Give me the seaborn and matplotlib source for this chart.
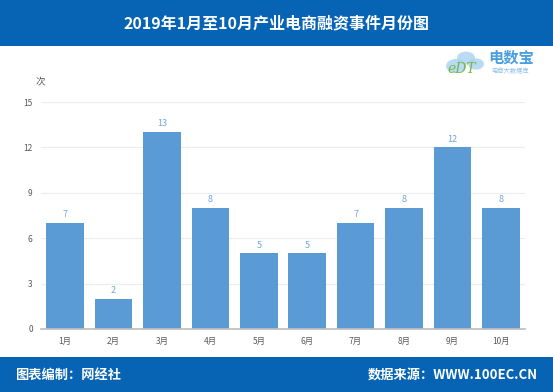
import matplotlib
matplotlib.use("Agg")
import matplotlib.pyplot as plt
import seaborn as sns
import pandas as pd
from matplotlib.patches import Circle, Rectangle

# -- Data
months = ["1月", "2月", "3月", "4月", "5月", "6月", "7月", "8月", "9月", "10月"]
events = [7, 2, 13, 8, 5, 5, 7, 8, 12, 8]
y_ticks = [0, 3, 6, 9, 12, 15]

TITLE = "2019年1月至10月产业电商融资事件月份图"
HEADER_BLUE = "#0764b4"
BAR_BLUE = "#5b9bd5"

sns.set_theme(style="white")
plt.rcParams['font.family'] = ['Noto Sans CJK SC', 'DejaVu Sans']

df = pd.DataFrame({"月份": months, "次数": events})

W, H = 553, 392
fig = plt.figure(figsize=(W / 100, H / 100), dpi=100)
fig.patch.set_facecolor("white")

def px(x, y):
    # pixel (from top-left) -> figure fraction
    return x / W, 1 - y / H

# header and footer bands
fig.patches.append(Rectangle((0, 1 - 46 / H), 1, 46 / H, transform=fig.transFigure,
                             facecolor=HEADER_BLUE, edgecolor="none", zorder=0))
fig.patches.append(Rectangle((0, 0), 1, 35 / H, transform=fig.transFigure,
                             facecolor=HEADER_BLUE, edgecolor="none", zorder=0))
fig.text(0.5, 1 - 23 / H, TITLE, color="white", fontsize=11.5, fontweight="bold",
         ha="center", va="center")
fig.text(15 / W, 17 / H, "图表编制：网经社", color="white", fontsize=9.5, fontweight="bold",
         ha="left", va="center")
fig.text(538 / W, 17 / H, "数据来源：WWW.100EC.CN", color="white", fontsize=9.5,
         fontweight="bold", ha="right", va="center")

# logo (rough cloud + text)
for cx, cy, r in [(456, 66, 10), (466, 58, 9), (476, 64, 8)]:
    x, y = px(cx, cy)
    fig.patches.append(Circle((x, y), r / W, transform=fig.transFigure,
                              facecolor="#a9d2f2", edgecolor="none", alpha=0.8, zorder=1))
fig.text(*px(447, 69), "eDT", color="#7ab648", fontsize=10, fontstyle="italic",
         ha="left", va="center", family="DejaVu Serif", zorder=2)
fig.text(*px(488, 58), "电数宝", color="#4a9ee0", fontsize=11, fontweight="bold",
         ha="left", va="center")
fig.text(*px(491, 71), "电商大数据库", color="#8fbfe8", fontsize=4.5,
         ha="left", va="center")

ax = fig.add_axes([41 / W, 63 / H, 484 / W, 227 / H])
sns.barplot(data=df, x="月份", y="次数", color=BAR_BLUE, width=0.78, saturation=1,
            linewidth=0, ax=ax)

for i, v in enumerate(events):
    ax.text(i, v + 0.25, str(v), color="#6fa8dc", fontsize=6.5, ha="center", va="bottom")

ax.set_ylim(0, 15)
ax.set_yticks(y_ticks)
ax.yaxis.grid(True, color="#ececec", linewidth=0.8)
ax.set_axisbelow(True)
for side in ["top", "right", "left"]:
    ax.spines[side].set_visible(False)
ax.spines["bottom"].set_color("#bfbfbf")
ax.tick_params(axis="both", length=0, labelsize=6, colors="#595959", pad=6)
ax.set_xlabel("")
ax.set_ylabel("")
ax.text(0.0, 1.088, "次", transform=ax.transAxes, fontsize=7, color="#595959",
        ha="center", va="center")

fig.savefig("out.png", dpi=100)
